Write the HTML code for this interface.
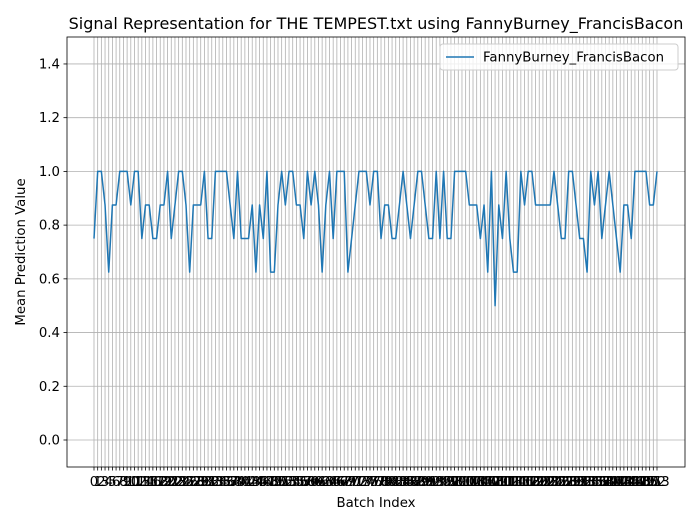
<!DOCTYPE html>
<html><head><meta charset="utf-8"><style>
body{margin:0;background:#fff;}
svg text{font-family:"DejaVu Sans","Liberation Sans",sans-serif;fill:#000;}
</style></head><body>
<svg id="chart" width="700" height="525" xmlns="http://www.w3.org/2000/svg">
<rect width="700" height="525" fill="#fff"/>
<g id="grid"></g>
<g id="xticks"></g>
<g id="yticks"></g>
<path id="line" fill="none" stroke="#1f77b4" stroke-width="1.5" stroke-linejoin="round"/>
<rect x="67" y="37" width="618" height="430" fill="none" stroke="#000" stroke-width="0.8"/>
<text x="376" y="29" font-size="16" text-anchor="middle">Signal Representation for THE TEMPEST.txt using FannyBurney_FrancisBacon</text>
<text x="376" y="507" font-size="13.3" text-anchor="middle">Batch Index</text>
<text transform="translate(25,252) rotate(-90)" font-size="13.3" text-anchor="middle">Mean Prediction Value</text>
<g>
<rect x="440" y="44" width="238" height="26" fill="#fff" fill-opacity="0.8" stroke="#ccc" rx="3"/>
<line x1="446" y1="57" x2="474" y2="57" stroke="#1f77b4" stroke-width="1.5"/>
<text x="483" y="61.5" font-size="13.3">FannyBurney_FrancisBacon</text>
</g>
</svg>
<script>
const values=[0.75,1,1,0.875,0.625,0.875,0.875,1,1,1,0.875,1,1,0.75,0.875,0.875,0.75,0.75,0.875,0.875,
1,0.75,0.875,1,1,0.875,0.625,0.875,0.875,0.875,1,0.75,0.75,1,1,1,1,0.875,0.75,1,
0.75,0.75,0.75,0.875,0.625,0.875,0.75,1,0.625,0.625,0.875,1,0.875,1,1,0.875,0.875,0.75,1,0.875,
1,0.875,0.625,0.875,1,0.75,1,1,1,0.625,0.75,0.875,1,1,1,0.875,1,1,0.75,0.875,
0.875,0.75,0.75,0.875,1,0.875,0.75,0.875,1,1,0.875,0.75,0.75,1,0.75,1,0.75,0.75,1,1,
1,1,0.875,0.875,0.875,0.75,0.875,0.625,1,0.5,0.875,0.75,1,0.75,0.625,0.625,1,0.875,1,1,
0.875,0.875,0.875,0.875,0.875,1,0.875,0.75,0.75,1,1,0.875,0.75,0.75,0.625,1,0.875,1,0.75,0.875,
1,0.875,0.75,0.625,0.875,0.875,0.75,1,1,1,1,0.875,0.875,1];
const yTicks=[0,0.2,0.4,0.6,0.8,1.0,1.2,1.4];
const yLabels=["0.0","0.2","0.4","0.6","0.8","1.0","1.2","1.4"];
const NS="http://www.w3.org/2000/svg";
const n=values.length;
const X=i=>94+i*(563/(n-1));
const Y=v=>440-v*268.6;
function mk(t,a,p){const e=document.createElementNS(NS,t);for(const k in a)e.setAttribute(k,a[k]);p.appendChild(e);return e;}
const grid=document.getElementById('grid'),xt=document.getElementById('xticks'),yt=document.getElementById('yticks');
for(let i=0;i<n;i++){
  const x=X(i);
  const g=mk('line',{x1:x,x2:x,y1:37,y2:467,stroke:'#b0b0b0','stroke-width':0.8},grid);
  
  
  mk('line',{x1:x,x2:x,y1:467,y2:470.5,stroke:'#000','stroke-width':0.8},xt);
  const t=mk('text',{x:x,y:486,'font-size':13.3,'text-anchor':'middle'},xt);
  
  
  t.textContent=String(i);
}
yTicks.forEach((v,k)=>{
  const y=Y(v);
  const g=mk('line',{x1:67,x2:685,y1:y,y2:y,stroke:'#b0b0b0','stroke-width':0.8},grid);
  
  
  mk('line',{x1:63.5,x2:67,y1:y,y2:y,stroke:'#000','stroke-width':0.8},yt);
  const t=mk('text',{x:60,y:y+4.5,'font-size':13.3,'text-anchor':'end'},yt);
  
  
  t.textContent=yLabels[k];
});
document.getElementById('line').setAttribute('d',values.map((v,i)=>(i?'L':'M')+X(i).toFixed(2)+','+Y(v).toFixed(2)).join(''));
</script>
</body></html>
